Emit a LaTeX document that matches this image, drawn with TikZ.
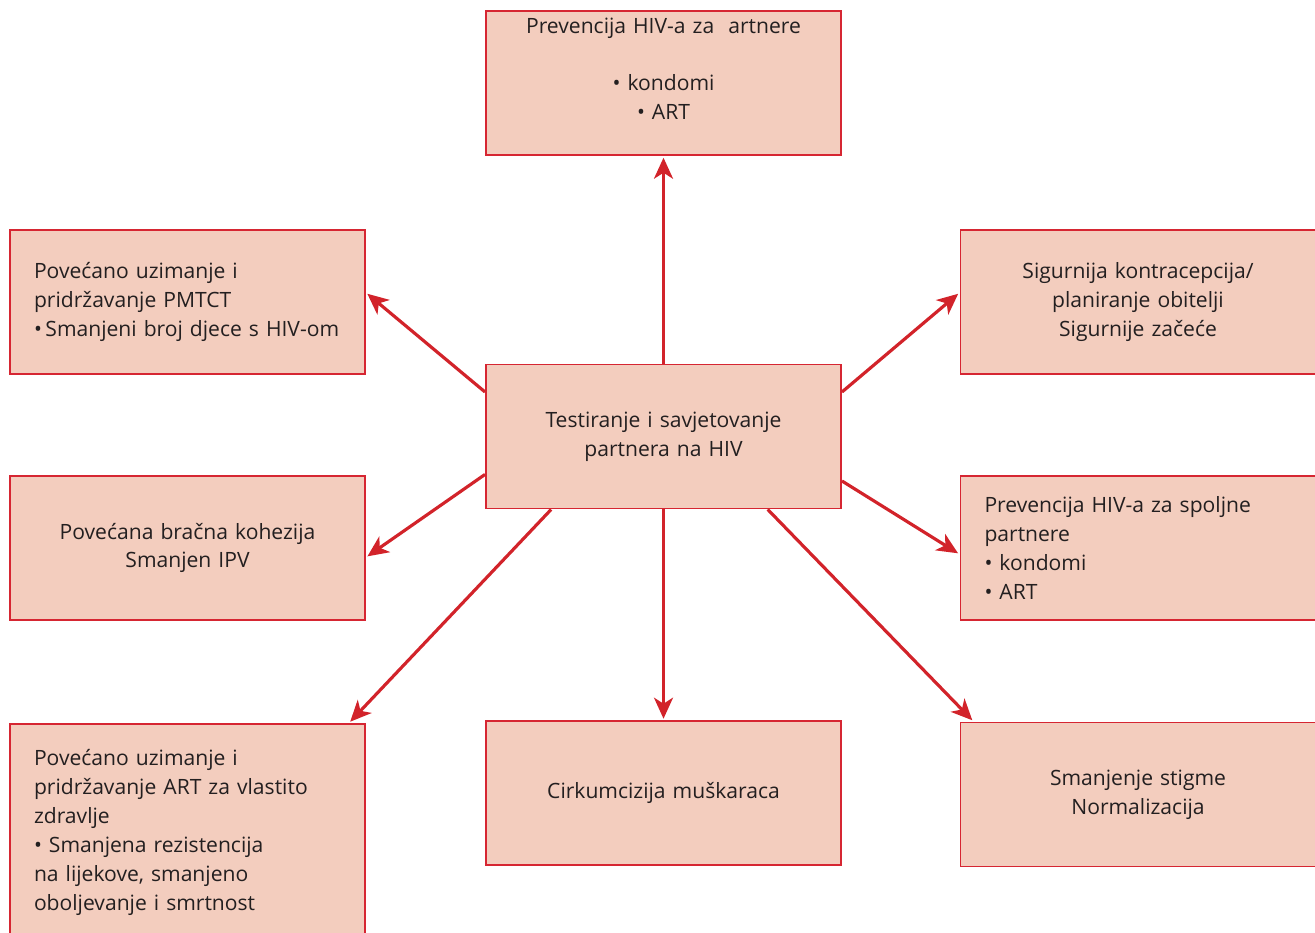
\documentclass[tikz,border=0pt]{standalone}
\usepackage{fontspec}
\setmainfont{Open Sans}
\usetikzlibrary{arrows.meta, calc, positioning}
\definecolor{boxfill}{RGB}{243,205,190}
\definecolor{boxline}{RGB}{214,38,50}
\definecolor{arrowred}{RGB}{210,35,42}
\definecolor{textgray}{RGB}{35,31,32}

\begin{document}
\begin{tikzpicture}[
            font=\fontsize{12pt}{16.4pt}\selectfont,
            effectbox/.style={rectangle, text=textgray, draw=boxline, fill=boxfill, line width=1.1pt, minimum height=2.88cm, text width=6.14cm, inner xsep=0.48cm, inner ysep=0pt},
            centerbox/.style={effectbox, align=center},
            leftbox/.style={effectbox, align=left},
            effect/.style={draw=arrowred, line width=1.8pt, -{Stealth[length=0.42cm, width=0.38cm, inset=0.12cm]}, shorten >=1pt},
            ]
            \useasboundingbox (0,0) rectangle (26.3,-18.66);
            %Nodes
            \node[centerbox]      (testing)      at (13.27,-8.73)  {Testiranje i savjetovanje\\ partnera na HIV};
            \node[centerbox]      (prevention)   at (13.27,-1.66)  {Prevencija HIV-a za\ \ artnere\\[16.4pt] \textbullet\ kondomi\\ \textbullet\ ART\\ \mbox{}};
            \node[leftbox]        (pmtct)        at (3.75,-6.04)   {Povećano uzimanje i\\ pridržavanje PMTCT\\ \textbullet\,Smanjeni broj djece s HIV-om};
            \node[centerbox]      (contraception) at (22.76,-6.04) {Sigurnija kontracepcija/\\ planiranje obitelji\\ Sigurnije začeće};
            \node[centerbox]      (cohesion)     at (3.75,-10.96)  {Povećana bračna kohezija\\ Smanjen IPV};
            \node[leftbox]        (outside)      at (22.76,-10.96) {Prevencija HIV-a za spoljne\\ partnere\\ \textbullet\ kondomi\\ \textbullet\ ART};
            \node[leftbox, minimum height=4.34cm, anchor=north] (treatment) at (3.75,-14.46) {Povećano uzimanje i\\ pridržavanje ART za vlastito\\ zdravlje\\ \textbullet\ Smanjena rezistencija\\ na lijekove, smanjeno\\ oboljevanje i smrtnost};
            \node[centerbox]      (circumcision) [below=4.22cm of testing] {Cirkumcizija muškaraca};
            \node[centerbox]      (stigma)       at (22.76,-15.89) {Smanjenje stigme\\ Normalizacija};

            %Lines
            \draw[effect] (testing.north) -- (prevention.south);
            \draw[effect] (testing.166) -- (pmtct.3);
            \draw[effect] (testing.14.7) -- (contraception.177);
            \draw[effect] (testing.192.5) -- (cohesion.357.4);
            \draw[effect] (testing.346.8) -- (outside.182.6);
            \draw[effect] (testing.213.6) -- ($(treatment.north east)+(-0.34,0)$);
            \draw[effect] (testing.south) -- (circumcision.north);
            \draw[effect] (testing.325.4) -- ($(stigma.north west)+(0.28,0)$);
\end{tikzpicture}
\end{document}
